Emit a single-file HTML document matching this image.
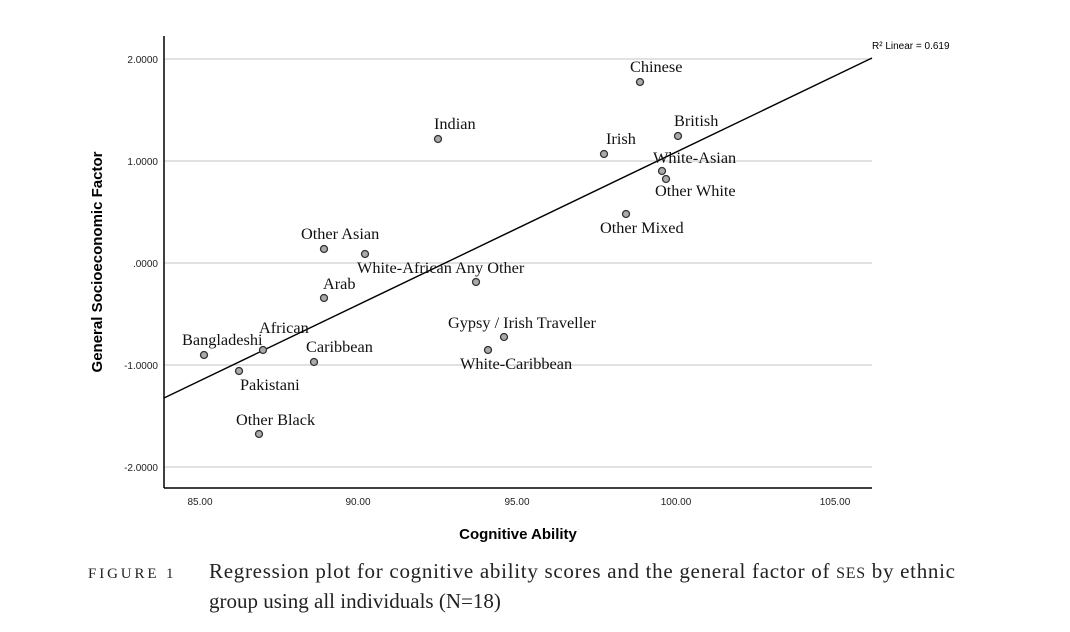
<!DOCTYPE html>
<html><head><style>body{margin:0;background:#fff}svg{display:block}</style></head><body>
<svg width="1070" height="632" xmlns="http://www.w3.org/2000/svg">
<g stroke="#cfcfcf" stroke-width="1.3">
<line x1="164" y1="59" x2="872" y2="59"/><line x1="164" y1="161" x2="872" y2="161"/>
<line x1="164" y1="263" x2="872" y2="263"/><line x1="164" y1="365" x2="872" y2="365"/>
<line x1="164" y1="467" x2="872" y2="467"/></g>
<g stroke="#000" stroke-width="1.5"><line x1="164" y1="36" x2="164" y2="488"/><line x1="164" y1="488" x2="872" y2="488"/></g>
<line x1="164" y1="398" x2="872" y2="58" stroke="#000" stroke-width="1.4"/>
<g font-family="Liberation Sans, sans-serif" font-size="10" text-anchor="end" fill="#222">
<text x="158" y="63">2.0000</text><text x="158" y="165">1.0000</text><text x="158" y="267">.0000</text>
<text x="158" y="369">-1.0000</text><text x="158" y="471">-2.0000</text></g>
<g font-family="Liberation Sans, sans-serif" font-size="10" text-anchor="middle" fill="#222">
<text x="200" y="505">85.00</text><text x="358" y="505">90.00</text><text x="517" y="505">95.00</text>
<text x="676" y="505">100.00</text><text x="835" y="505">105.00</text></g>
<text x="518" y="539" font-family="Liberation Sans, sans-serif" font-size="15" font-weight="bold" text-anchor="middle">Cognitive Ability</text>
<text transform="translate(102,262) rotate(-90)" font-family="Liberation Sans, sans-serif" font-size="15" font-weight="bold" text-anchor="middle">General Socioeconomic Factor</text>
<text x="872" y="49" font-family="Liberation Sans, sans-serif" font-size="10">R² Linear = 0.619</text>
<g fill="#aaa" stroke="#333" stroke-width="1.3">
<circle cx="640" cy="82" r="3.5"/><circle cx="678" cy="136" r="3.5"/><circle cx="604" cy="154" r="3.5"/>
<circle cx="438" cy="139" r="3.5"/><circle cx="662" cy="171" r="3.5"/><circle cx="666" cy="179" r="3.5"/>
<circle cx="626" cy="214" r="3.5"/><circle cx="324" cy="249" r="3.5"/><circle cx="365" cy="254" r="3.5"/>
<circle cx="476" cy="282" r="3.5"/><circle cx="324" cy="298" r="3.5"/><circle cx="504" cy="337" r="3.5"/>
<circle cx="488" cy="350" r="3.5"/><circle cx="204" cy="355" r="3.5"/><circle cx="263" cy="350" r="3.5"/>
<circle cx="314" cy="362" r="3.5"/><circle cx="239" cy="371" r="3.5"/><circle cx="259" cy="434" r="3.5"/></g>
<g font-family="Liberation Serif, serif" font-size="16.3" fill="#111">
<text x="630" y="72">Chinese</text><text x="674" y="126">British</text><text x="606" y="144">Irish</text>
<text x="434" y="129">Indian</text><text x="653" y="163">White-Asian</text><text x="655" y="196">Other White</text>
<text x="600" y="233">Other Mixed</text><text x="301" y="239">Other Asian</text>
<text x="357" y="273">White-African Any Other</text><text x="323" y="289">Arab</text>
<text x="448" y="328">Gypsy / Irish Traveller</text><text x="460" y="369">White-Caribbean</text>
<text x="182" y="345">Bangladeshi</text><text x="259" y="333">African</text><text x="306" y="352">Caribbean</text>
<text x="240" y="390">Pakistani</text><text x="236" y="425">Other Black</text></g>
<text x="88" y="578" font-family="Liberation Serif, serif" font-size="15" letter-spacing="1.5" fill="#222" textLength="87">FIGURE 1</text>
<g font-family="Liberation Serif, serif" font-size="21" fill="#222">
<text x="209" y="578" textLength="746" lengthAdjust="spacing">Regression plot for cognitive ability scores and the general factor of <tspan font-size="16">SES</tspan> by ethnic</text>
<text x="209" y="608">group using all individuals (N=18)</text></g>
</svg>
</body></html>
